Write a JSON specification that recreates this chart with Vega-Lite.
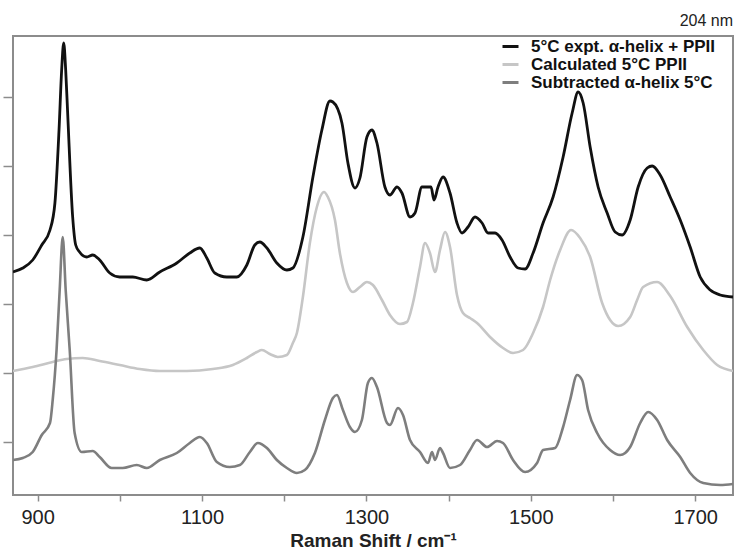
{
  "$schema": "https://vega.github.io/schema/vega-lite/v6.json",
  "width": 720,
  "height": 459,
  "autosize": {"type": "none"},
  "padding": {"left": 13, "top": 36, "right": 6, "bottom": 60},
  "title": {"text": "204 nm", "anchor": "end", "fontSize": 16, "fontWeight": "normal", "font": "Liberation Sans", "color": "#222222", "offset": 7},
  "config": {
    "view": {"stroke": "#8c8c8c", "strokeWidth": 2},
    "font": "Liberation Sans"
  },
  "datasets": {
    "expt": [
      {"x":870,"y":223},{"x":882,"y":227},{"x":894,"y":235},{"x":905,"y":250},{"x":915,"y":265},{"x":921,"y":292},{"x":926,"y":365},{"x":929.2,"y":425},{"x":931.7,"y":452},{"x":934.1,"y":425},{"x":936.5,"y":382},{"x":942.6,"y":278},{"x":946.3,"y":250},{"x":951,"y":243},{"x":959.7,"y":238},{"x":967,"y":240},{"x":975.5,"y":235},{"x":987.7,"y":222},{"x":999.9,"y":218},{"x":1015.7,"y":218},{"x":1032.7,"y":215},{"x":1048.6,"y":223},{"x":1069.3,"y":232},{"x":1085.1,"y":242},{"x":1097.3,"y":247},{"x":1105.8,"y":237},{"x":1115.5,"y":222},{"x":1130.1,"y":218},{"x":1142.3,"y":218},{"x":1154.5,"y":230},{"x":1164.2,"y":250},{"x":1170.3,"y":253},{"x":1178.9,"y":247},{"x":1191,"y":232},{"x":1203.2,"y":225},{"x":1210.5,"y":227},{"x":1222.7,"y":258},{"x":1234.9,"y":318},{"x":1245.8,"y":365},{"x":1255.6,"y":394},{"x":1259.2,"y":393},{"x":1270.2,"y":372},{"x":1277.5,"y":332},{"x":1286,"y":307},{"x":1292.1,"y":317},{"x":1300.6,"y":358},{"x":1306.7,"y":365},{"x":1312.8,"y":352},{"x":1322.5,"y":308},{"x":1328.6,"y":300},{"x":1337.2,"y":308},{"x":1343.2,"y":302},{"x":1353,"y":278},{"x":1359.1,"y":282},{"x":1367.6,"y":308},{"x":1373.7,"y":308},{"x":1378.6,"y":308},{"x":1382.2,"y":295},{"x":1387.1,"y":308},{"x":1393.2,"y":318},{"x":1401.7,"y":302},{"x":1410.2,"y":272},{"x":1416.3,"y":262},{"x":1423.6,"y":268},{"x":1432.1,"y":278},{"x":1440.7,"y":272},{"x":1448,"y":262},{"x":1456.5,"y":262},{"x":1465,"y":255},{"x":1474.8,"y":238},{"x":1484.5,"y":227},{"x":1493,"y":226},{"x":1502.8,"y":242},{"x":1514.9,"y":272},{"x":1527.1,"y":298},{"x":1539.3,"y":338},{"x":1550.3,"y":382},{"x":1557.6,"y":403},{"x":1563.7,"y":392},{"x":1572.2,"y":348},{"x":1581.9,"y":308},{"x":1592.9,"y":282},{"x":1602.6,"y":263},{"x":1611.1,"y":260},{"x":1620.9,"y":275},{"x":1630.6,"y":308},{"x":1641.6,"y":327},{"x":1647.7,"y":329},{"x":1657.4,"y":320},{"x":1669.6,"y":298},{"x":1681.8,"y":275},{"x":1693.9,"y":248},{"x":1706.1,"y":218},{"x":1718.3,"y":205},{"x":1730.5,"y":200},{"x":1746,"y":198}
    ],
    "calc": [
      {"x":870,"y":124},{"x":894,"y":128},{"x":918.3,"y":133},{"x":935.3,"y":136},{"x":954.8,"y":137},{"x":975.5,"y":134},{"x":999.9,"y":130},{"x":1024.2,"y":126},{"x":1048.6,"y":124},{"x":1081.4,"y":124},{"x":1113.1,"y":126},{"x":1137.5,"y":130},{"x":1154.5,"y":137},{"x":1166.7,"y":143},{"x":1172.8,"y":145},{"x":1182.5,"y":141},{"x":1192.2,"y":138},{"x":1203.2,"y":140},{"x":1210.5,"y":152},{"x":1215.4,"y":162},{"x":1222.7,"y":198},{"x":1231.2,"y":252},{"x":1239.7,"y":288},{"x":1248.3,"y":303},{"x":1253.1,"y":298},{"x":1261.7,"y":275},{"x":1267.7,"y":242},{"x":1276.3,"y":212},{"x":1283.6,"y":203},{"x":1292.1,"y":208},{"x":1300.6,"y":213},{"x":1307.9,"y":210},{"x":1318.9,"y":195},{"x":1328.6,"y":180},{"x":1340.8,"y":171},{"x":1349.3,"y":173},{"x":1356.6,"y":192},{"x":1365.2,"y":228},{"x":1371.3,"y":252},{"x":1377.3,"y":242},{"x":1383.4,"y":223},{"x":1389.5,"y":245},{"x":1395.6,"y":263},{"x":1401.7,"y":248},{"x":1410.2,"y":200},{"x":1417.5,"y":182},{"x":1426,"y":177},{"x":1434.6,"y":172},{"x":1450.4,"y":158},{"x":1466.2,"y":147},{"x":1478.4,"y":142},{"x":1490.6,"y":145},{"x":1502.8,"y":162},{"x":1514.9,"y":188},{"x":1523.5,"y":215},{"x":1535.7,"y":245},{"x":1549,"y":265},{"x":1560,"y":257},{"x":1572.2,"y":238},{"x":1586.8,"y":192},{"x":1596.5,"y":175},{"x":1606.3,"y":169},{"x":1620.9,"y":178},{"x":1629.4,"y":195},{"x":1636.7,"y":208},{"x":1653.7,"y":213},{"x":1669.6,"y":199},{"x":1690.3,"y":168},{"x":1709.8,"y":145},{"x":1726.8,"y":130},{"x":1746,"y":124}
    ],
    "sub": [
      {"x":870,"y":35},{"x":882,"y":37},{"x":894,"y":43},{"x":905,"y":60},{"x":915,"y":72},{"x":918.3,"y":95},{"x":923,"y":145},{"x":926.8,"y":205},{"x":930.5,"y":258},{"x":934.1,"y":205},{"x":939,"y":145},{"x":945,"y":62},{"x":953.6,"y":43},{"x":967,"y":44},{"x":975.5,"y":38},{"x":990,"y":27},{"x":1003.5,"y":27},{"x":1020.6,"y":30},{"x":1032.7,"y":27},{"x":1048.6,"y":35},{"x":1069.3,"y":42},{"x":1085.1,"y":52},{"x":1097.3,"y":58},{"x":1105.8,"y":52},{"x":1118,"y":33},{"x":1133.8,"y":28},{"x":1146,"y":30},{"x":1158.2,"y":43},{"x":1167.9,"y":52},{"x":1178.9,"y":47},{"x":1191,"y":35},{"x":1203.2,"y":27},{"x":1215.4,"y":22},{"x":1225.1,"y":25},{"x":1237.3,"y":42},{"x":1249.5,"y":75},{"x":1259.2,"y":97},{"x":1264.1,"y":100},{"x":1271.4,"y":85},{"x":1279.9,"y":68},{"x":1286,"y":63},{"x":1294.5,"y":75},{"x":1301.8,"y":112},{"x":1306.7,"y":117},{"x":1312.8,"y":108},{"x":1325,"y":72},{"x":1328.6,"y":70},{"x":1338.4,"y":87},{"x":1344.5,"y":80},{"x":1353,"y":55},{"x":1365.2,"y":43},{"x":1374.9,"y":32},{"x":1379.8,"y":43},{"x":1383.4,"y":35},{"x":1389.5,"y":47},{"x":1393.2,"y":42},{"x":1401.7,"y":27},{"x":1413.9,"y":30},{"x":1426,"y":45},{"x":1434.6,"y":55},{"x":1446.8,"y":48},{"x":1458.9,"y":54},{"x":1466.2,"y":52},{"x":1478.4,"y":35},{"x":1493,"y":23},{"x":1507.6,"y":32},{"x":1514.9,"y":45},{"x":1529.6,"y":47},{"x":1539.3,"y":68},{"x":1547.8,"y":95},{"x":1556.3,"y":120},{"x":1562.4,"y":115},{"x":1569.7,"y":85},{"x":1580.7,"y":62},{"x":1596.5,"y":45},{"x":1608.7,"y":40},{"x":1620.9,"y":48},{"x":1633.1,"y":72},{"x":1642.8,"y":83},{"x":1653.7,"y":75},{"x":1665.9,"y":55},{"x":1681.8,"y":38},{"x":1693.9,"y":22},{"x":1709.8,"y":12},{"x":1730.5,"y":10},{"x":1746,"y":11}
    ]
  },
  "layer": [
    {
      "data": {"name": "calc"},
      "transform": [{"calculate": "'Calculated 5°C PPII'", "as": "series"}],
      "mark": {"type": "line", "strokeWidth": 2.6, "clip": true, "interpolate": "monotone"},
      "encoding": {
        "x": {"field": "x", "type": "quantitative"},
        "y": {"field": "y", "type": "quantitative"},
        "color": {"field": "series", "type": "nominal"}
      }
    },
    {
      "data": {"name": "sub"},
      "transform": [{"calculate": "'Subtracted α-helix 5°C'", "as": "series"}],
      "mark": {"type": "line", "strokeWidth": 2.6, "clip": true, "interpolate": "monotone"},
      "encoding": {
        "x": {"field": "x", "type": "quantitative"},
        "y": {"field": "y", "type": "quantitative"},
        "color": {"field": "series", "type": "nominal"}
      }
    },
    {
      "data": {"name": "expt"},
      "transform": [{"calculate": "'5°C expt. α-helix + PPII'", "as": "series"}],
      "mark": {"type": "line", "strokeWidth": 2.8, "clip": true, "interpolate": "monotone"},
      "encoding": {
        "x": {
          "field": "x", "type": "quantitative",
          "scale": {"domain": [870, 1746], "nice": false, "zero": false},
          "axis": {
            "title": "Raman Shift / cm⁻¹",
            "values": [900, 1000, 1100, 1200, 1300, 1400, 1500, 1600, 1700],
            "labelExpr": "datum.value % 200 == 100 ? datum.label : ''",
            "format": "d",
            "labelOverlap": false,
            "labelFontSize": 20,
            "labelColor": "#222222",
            "labelPadding": 6,
            "tickSize": 6,
            "tickColor": "#8c8c8c",
            "tickWidth": 1.5,
            "domain": false,
            "grid": false,
            "titleFontSize": 19,
            "titleFontWeight": "bold",
            "titleColor": "#222222",
            "titlePadding": 4
          }
        },
        "y": {
          "field": "y", "type": "quantitative",
          "scale": {"domain": [0, 459], "nice": false, "zero": false},
          "axis": {
            "title": null,
            "values": [53, 122, 191, 260, 329, 398],
            "labels": false,
            "tickSize": 10,
            "tickColor": "#8c8c8c",
            "tickWidth": 1.5,
            "domain": false,
            "grid": false
          }
        },
        "color": {
          "field": "series", "type": "nominal",
          "scale": {
            "domain": ["5°C expt. α-helix + PPII", "Calculated 5°C PPII", "Subtracted α-helix 5°C"],
            "range": ["#111111", "#c6c6c6", "#7e7e7e"]
          },
          "legend": {
            "title": null,
            "orient": "none",
            "legendX": 488,
            "legendY": 1,
            "padding": 0,
            "symbolType": "stroke",
            "symbolSize": 256,
            "symbolStrokeWidth": 3,
            "labelFont": "Liberation Sans",
            "labelFontSize": 17,
            "labelFontWeight": "bold",
            "labelColor": "#111111",
            "labelOffset": 11,
            "rowPadding": 0,
            "labelLimit": 300
          }
        }
      }
    }
  ]
}
